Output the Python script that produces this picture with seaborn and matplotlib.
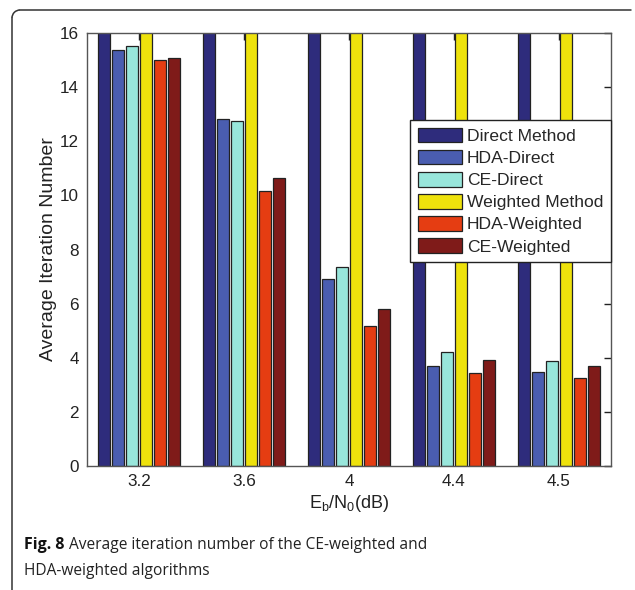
import matplotlib
matplotlib.use("Agg")
import matplotlib.pyplot as plt
import seaborn as sns
import pandas as pd
from matplotlib.lines import Line2D
from matplotlib.patches import Arc
from matplotlib.transforms import IdentityTransform

# ---- data ----
snr_labels = ["3.2", "3.6", "4", "4.4", "4.5"]
methods = ["Direct Method", "HDA-Direct", "CE-Direct",
           "Weighted Method", "HDA-Weighted", "CE-Weighted"]
direct_method = [30, 30, 30, 30, 30]
hda_direct = [15.37, 12.82, 6.91, 3.71, 3.46]
ce_direct = [15.53, 12.75, 7.37, 4.20, 3.87]
weighted_method = [30, 30, 30, 30, 30]
hda_weighted = [15.00, 10.16, 5.19, 3.42, 3.26]
ce_weighted = [15.08, 10.64, 5.80, 3.92, 3.71]
colors = ["#2E2C7C", "#4A5DB0", "#98E6DB", "#EEE20C", "#E53D12", "#7F1B19"]

series = [direct_method, hda_direct, ce_direct, weighted_method, hda_weighted, ce_weighted]
rows = []
for m, vals in zip(methods, series):
    for s, v in zip(snr_labels, vals):
        rows.append({"snr": s, "value": v, "method": m})
df = pd.DataFrame(rows)

sns.set_style("white")
plt.rcParams['font.family'] = ['Liberation Sans', 'DejaVu Sans']
plt.rcParams['mathtext.fontset'] = 'custom'
plt.rcParams['mathtext.rm'] = 'Liberation Sans'
plt.rcParams['mathtext.it'] = 'Liberation Sans'

fig = plt.figure(figsize=(6.35, 5.9), dpi=100)
ax = fig.add_axes([87/635, 1-466/590, (611-87)/635, (466-33)/590])

sns.barplot(data=df, x="snr", y="value", hue="method", order=snr_labels,
            hue_order=methods, palette=colors, width=0.8, gap=0.14,
            edgecolor="#222222", linewidth=0.9, ax=ax, saturation=1)

ax.set_ylim(0, 16)
ax.set_xlim(-0.5, 4.5)
ax.set_yticks(range(0, 17, 2))
ax.tick_params(axis="both", direction="in", length=5, width=1, colors="#222222",
               labelsize=12.3, top=True, right=True, labelcolor="#222222")
ax.tick_params(axis="x", pad=6)
ax.tick_params(axis="y", pad=6)
for sp in ax.spines.values():
    sp.set_color("#555555")
    sp.set_linewidth(1)
    sp.set_visible(True)

ax.set_ylabel("Average Iteration Number", fontsize=14, color="#222222", labelpad=2)
ax.set_xlabel(r"E$_\mathregular{b}$/N$_\mathregular{0}$(dB)", fontsize=13,
              color="#222222", labelpad=3)

handles, labels = ax.get_legend_handles_labels()
leg = ax.legend(handles, labels, loc="upper right", bbox_to_anchor=(1.0, (466-120)/433),
                fontsize=12.6, frameon=True, fancybox=False, handlelength=2.55,
                handleheight=0.9, labelspacing=0.33, borderpad=0.45,
                handletextpad=0.25, borderaxespad=0)
leg.get_frame().set_edgecolor("#222222")
leg.get_frame().set_linewidth(1)
leg.get_frame().set_alpha(1)

# figure frame (top and left, rounded corner)
H = 590
tr = IdentityTransform()
fig.add_artist(Line2D([12, 12], [0, H-18], transform=tr, color="#333333", lw=1.1))
fig.add_artist(Line2D([20, 631], [H-10, H-10], transform=tr, color="#333333", lw=1.1))
fig.add_artist(Arc((20, H-18), 16, 16, theta1=90, theta2=180, transform=tr,
                   color="#333333", lw=1.1))

# caption
cap_font = ["Open Sans", "DejaVu Sans"]
t1 = fig.text(24/635, 1-549/590, "Fig. 8", fontsize=11.5, fontweight="bold",
              family=cap_font, color="#111111", va="baseline")
fig.canvas.draw()
bb = t1.get_window_extent(renderer=fig.canvas.get_renderer())
fig.text((bb.x1 + 5)/635, 1-549/590, "Average iteration number of the CE-weighted and",
         fontsize=11.2, family=cap_font, color="#222222", va="baseline")
fig.text(24/635, 1-575/590, "HDA-weighted algorithms",
         fontsize=11.2, family=cap_font, color="#222222", va="baseline")

fig.savefig("out.png", dpi=100)
